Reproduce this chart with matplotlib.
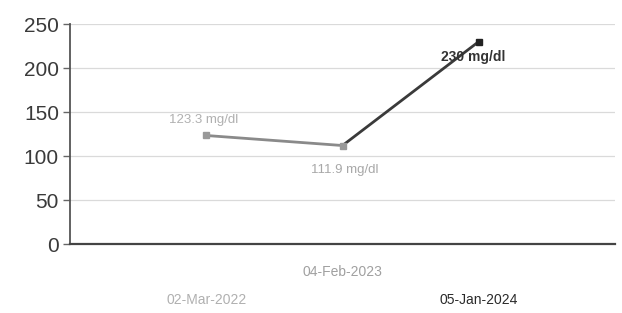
import matplotlib
matplotlib.use("Agg")
import matplotlib.pyplot as plt

dates = ["02-Mar-2022", "04-Feb-2023", "05-Jan-2024"]
values = [123.3, 111.9, 230]
value_labels = ["123.3 mg/dl", "111.9 mg/dl", "230 mg/dl"]
yticks = [0, 50, 100, 150, 200, 250]

plt.rcParams['font.family'] = ['Liberation Sans', 'DejaVu Sans']

fig = plt.figure(figsize=(6.22, 3.13), dpi=100)
ax = fig.add_axes([70/622, 1-244/313, (615-70)/622, (244-24)/313])
x = list(range(len(dates)))

ax.set_xlim(-1, 3.0)
ax.set_ylim(0, 250)
for t in yticks[1:]:
    ax.axhline(t, color="#dadada", lw=0.9, zorder=0)

seg_colors = ["#8a8a8a", "#3a3a3a"]
for i in range(len(x) - 1):
    ax.plot(x[i:i+2], values[i:i+2], color=seg_colors[i], lw=2.0, zorder=2)
marker_colors = ["#999999", "#999999", "#222222"]
for xi, v, c in zip(x, values, marker_colors):
    ax.plot([xi], [v], marker="s", ms=5, color=c, zorder=3)

ax.text(x[0] - 0.02, values[0] + 18, value_labels[0], ha="center", va="center",
        fontsize=9.5, color="#b0b0b0")
ax.text(x[1] + 0.02, values[1] - 28, value_labels[1], ha="center", va="center",
        fontsize=9.5, color="#a8a8a8")
ax.text(x[2] - 0.04, values[2] - 18, value_labels[2], ha="center", va="center",
        fontsize=10, color="#333333", fontweight="bold")

ax.set_yticks(yticks)
ax.set_yticklabels([str(t) for t in yticks], fontsize=15, color="#3a3a3a")
ax.tick_params(axis="y", length=5, width=1, color="#666666", pad=3)
ax.set_xticks([])

label_off = [-40, -20, -40]
label_c = ["#b0b0b0", "#a0a0a0", "#2a2a2a"]
for xi, d, off, c in zip(x, dates, label_off, label_c):
    ax.annotate(d, xy=(xi, 0), xycoords=("data", "axes fraction"),
                xytext=(0, off), textcoords="offset points",
                ha="center", va="center", fontsize=10, color=c)

for s in ["top", "right"]:
    ax.spines[s].set_visible(False)
ax.spines["left"].set_color("#555555")
ax.spines["left"].set_linewidth(1.3)
ax.spines["bottom"].set_color("#444444")
ax.spines["bottom"].set_linewidth(1.6)

fig.savefig("out.png", dpi=100)
